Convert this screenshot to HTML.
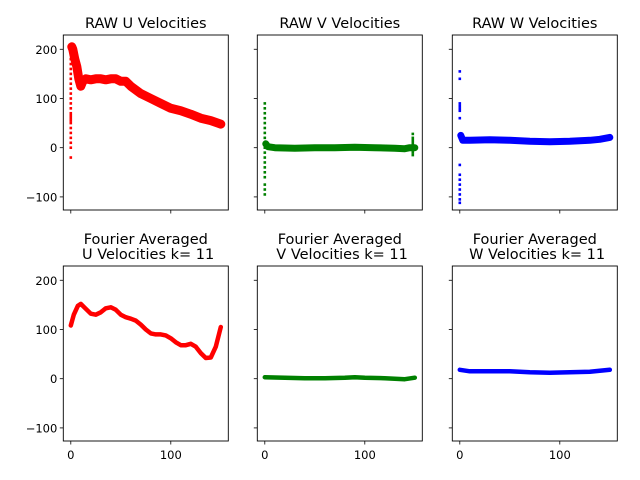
<!DOCTYPE html>
<html><head><meta charset="utf-8"><style>
body{margin:0;background:#fff}
svg{display:block;font-family:"DejaVu Sans","Liberation Sans",sans-serif}
</style></head><body>
<svg id="c" width="640" height="480" viewBox="0 0 640 480"></svg>
<script>
const rawUx=[1,2,4,6,8,10,12,15,20,25,30,35,40,45,50,55,60,70,80,90,100,110,120,130,140,150];
const rawUy=[205,200,180,165,140,125,135,140,138,140,140,138,140,140,135,135,125,110,100,90,80,75,68,60,55,48];
const rawUspike=[-20,0,10,20,30,40,50,55,60,65,70,80,90,100,110,120,130,140,150,160,170,180,190,200];
const rawVx=[1,3,10,30,50,70,90,110,130,140,145,150];
const rawVy=[8,2,0,-1,0,0,1,0,-1,-2,0,0];
const rawVspike=[-95,-85,-75,-60,-50,-40,-30,-20,-10,0,10,20,30,40,50,60,70,80,90];
const rawVend=[-15,-10,-5,0,5,10,15,20,28];
const rawWx=[1,3,10,30,50,70,90,110,130,140,150];
const rawWy=[25,15,15,16,15,13,12,13,15,17,21];
const rawWspike=[155,140,90,85,80,75,60,-35,-55,-65,-75,-85,-95,-105,-112];
const fx=[0,3,7,10,15,20,25,30,35,40,45,50,55,60,65,70,75,80,85,90,95,100,105,110,115,120,125,130,135,140,145,150];
const fU=[108,130,148,152,142,132,130,135,143,145,140,130,125,122,118,110,100,92,90,90,88,82,74,68,68,71,65,52,42,43,65,105];
const fVx=[0,20,40,60,80,90,100,120,140,150];
const fV=[3,2,1,1,2,3,2,1,-1,2];
const fWx=[0,10,30,50,70,90,110,130,140,150];
const fW=[18,15,15,15,13,12,13,14,16,18];
const yTicks=[200,100,0,-100];
const xTicks=[0,100];

const NS="http://www.w3.org/2000/svg",svg=document.getElementById('c');
function mk(t,a,p){const e=document.createElementNS(NS,t);for(const k in a)e.setAttribute(k,a[k]);(p||svg).appendChild(e);return e;}
const cols=[63.3,257.3,452.3],W=165,rows=[35,266],H=175;
function ax(c,r){const L=cols[c],T=rows[r];
 return {sx:v=>L+(v+7.5)/165*W, sy:v=>T+H-(v+126.6)/(229+126.6)*H, L,T};}
function panel(c,r,title,name){
 const a=ax(c,r);
 const g=mk('g',{});
 
 
 yTicks.forEach(v=>{const y=a.sy(v);mk('line',{x1:a.L-3.5,x2:a.L,y1:y,y2:y,stroke:'#000','stroke-width':0.8},g);
  if(c==0){const t=mk('text',{x:a.L-6,y:y+4.5,'text-anchor':'end','font-size':11.5},g);t.textContent=v<0?'\u2212'+(-v):v;
  }});
 xTicks.forEach(v=>{const x=a.sx(v);mk('line',{x1:x,x2:x,y1:a.T+H,y2:a.T+H+3.5,stroke:'#000','stroke-width':0.8},g);
  if(r==1){const t=mk('text',{x:x,y:a.T+H+18,'text-anchor':'middle','font-size':11.5},g);t.textContent=v;
  }});
 const cx=a.L+W/2;
 title.forEach((s,i)=>{const t=mk('text',{x:cx,y:a.T-(title.length-i)*15+8,'text-anchor':'middle','font-size':14.5},g);t.textContent=s.replace(/^ /,'\u00a0');
  });
 return {a,g};}
function line(p,xs,ys,col,w,name){const d=xs.map((x,i)=>p.a.sx(x).toFixed(1)+','+p.a.sy(ys[i]).toFixed(1)).join(' ');
 const e=mk('polyline',{points:d,fill:'none',stroke:col,'stroke-width':w,'stroke-linejoin':'round','stroke-linecap':'round'},p.g);
 }
function dots(p,x,ys,col,name){ys.forEach(v=>{const e=mk('rect',{x:p.a.sx(x)-1.3,y:p.a.sy(v)-1.3,width:2.6,height:2.6,fill:col},p.g);
 });}
function frame(p){mk('rect',{x:p.a.L,y:p.a.T,width:W,height:H,fill:'none',stroke:'#000','stroke-width':0.9},p.g);}

let p=panel(0,0,['RAW U Velocities'],'raw-u-panel');line(p,rawUx,rawUy,'#ff0000',9,'raw-u-series');dots(p,0,rawUspike,'#ff0000','raw-u-spike');frame(p);
p=panel(1,0,['RAW V Velocities'],'raw-v-panel');line(p,rawVx,rawVy,'#008000',7,'raw-v-series');dots(p,0,rawVspike,'#008000','raw-v-spike');dots(p,148,rawVend,'#008000','raw-v-end');frame(p);
p=panel(2,0,['RAW W Velocities'],'raw-w-panel');line(p,rawWx,rawWy,'#0000ff',7,'raw-w-series');dots(p,0,rawWspike,'#0000ff','raw-w-spike');frame(p);
p=panel(0,1,['Fourier Averaged',' U Velocities k= 11'],'fourier-u-panel');line(p,fx,fU,'#ff0000',4.5,'fourier-u-series');frame(p);
p=panel(1,1,['Fourier Averaged',' V Velocities k= 11'],'fourier-v-panel');line(p,fVx,fV,'#008000',4.5,'fourier-v-series');frame(p);
p=panel(2,1,['Fourier Averaged',' W Velocities k= 11'],'fourier-w-panel');line(p,fWx,fW,'#0000ff',4.5,'fourier-w-series');frame(p);
</script>
</body></html>
